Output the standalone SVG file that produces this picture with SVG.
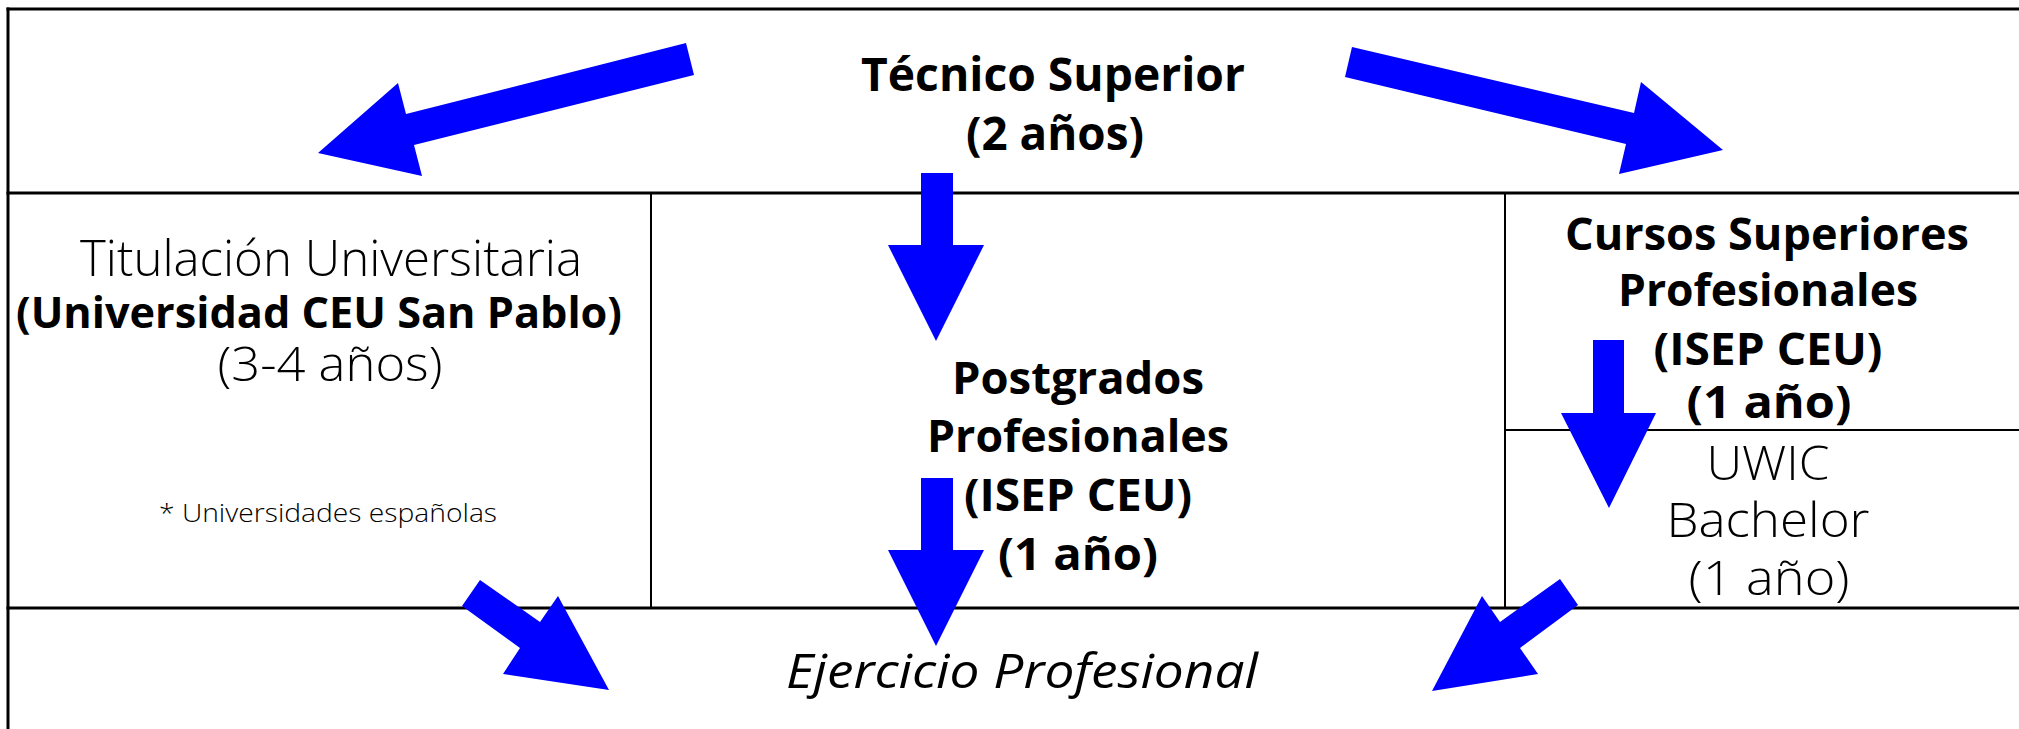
<svg xmlns="http://www.w3.org/2000/svg" width="2019" height="729" viewBox="0 0 2019 729">
<style>
.bg{fill:#ffffff}
.grid line{stroke:#000000;stroke-linecap:square}
.thick{stroke-width:3}
.thin{stroke-width:2}
.arrow{fill:#0000ff;stroke:none}
text{fill:#000000;text-anchor:middle}
.b{font-family:"Open Sans","Noto Sans","Liberation Sans",sans-serif;font-weight:700}
.l{font-family:"Open Sans","Noto Sans","Liberation Sans",sans-serif;font-weight:300}
.i{font-family:"Open Sans","Noto Sans","Liberation Sans",sans-serif;font-style:italic;font-weight:400}
</style>
<rect class="bg" x="0" y="0" width="2019" height="729"/>
<g id="grid" class="grid">
<line class="thick" x1="8" y1="9" x2="2019" y2="9"/>
<line class="thick" x1="8" y1="9" x2="8" y2="729"/>
<line class="thick" x1="8" y1="193" x2="2019" y2="193"/>
<line class="thick" x1="8" y1="608" x2="2019" y2="608"/>
<line class="thin" x1="651" y1="193" x2="651" y2="608"/>
<line class="thin" x1="1505" y1="193" x2="1505" y2="608"/>
<line class="thin" x1="1505" y1="430" x2="2019" y2="430"/>
</g>
<g id="connectors">
<polygon class="arrow" points="686,43 694,75 414,145 422,176 318,153 398,83 406,114"/>
<polygon class="arrow" points="1352,47 1634,113 1641,82 1723,150 1619,174 1626,144 1345,77"/>
<polygon class="arrow" points="921,173 953,173 953,245 984,245 936,341 888,245 921,245"/>
<polygon class="arrow" points="921,478 953,478 953,550 984,550 936,646 888,550 921,550"/>
<polygon class="arrow" points="1593,340 1624,340 1624,413 1656,413 1609,508 1561,413 1593,413"/>
<polygon class="arrow" points="480,580 540,622 558,596 609,690 503,674 520,648 462,606"/>
<polygon class="arrow" points="1560,579 1578,605 1520,648 1538,674 1432,691 1482,596 1500,622"/>
</g>
<g id="tecnico-superior">
<text class="b" x="1053" y="91" font-size="46" textLength="384" lengthAdjust="spacingAndGlyphs">Técnico Superior</text>
<text class="b" x="1055" y="150" font-size="46" textLength="178" lengthAdjust="spacingAndGlyphs">(2 años)</text>
</g>
<g id="titulacion-universitaria">
<text class="l" x="331" y="276" font-size="49" textLength="502" lengthAdjust="spacingAndGlyphs">Titulación Universitaria</text>
<text class="b" x="319" y="328" font-size="43" textLength="606" lengthAdjust="spacingAndGlyphs">(Universidad CEU San Pablo)</text>
<text class="l" x="330" y="381" font-size="47" textLength="225" lengthAdjust="spacingAndGlyphs">(3-4 años)</text>
<text class="l" x="328" y="522" font-size="26" textLength="338" lengthAdjust="spacingAndGlyphs">* Universidades españolas</text>
</g>
<g id="postgrados-profesionales">
<text class="b" x="1078" y="394" font-size="44" textLength="252" lengthAdjust="spacingAndGlyphs">Postgrados</text>
<text class="b" x="1078" y="452" font-size="44" textLength="302" lengthAdjust="spacingAndGlyphs">Profesionales</text>
<text class="b" x="1078" y="511" font-size="44" textLength="228" lengthAdjust="spacingAndGlyphs">(ISEP CEU)</text>
<text class="b" x="1078" y="570" font-size="44" textLength="160" lengthAdjust="spacingAndGlyphs">(1 año)</text>
</g>
<g id="cursos-superiores">
<text class="b" x="1767" y="250" font-size="45" textLength="404" lengthAdjust="spacingAndGlyphs">Cursos Superiores</text>
<text class="b" x="1768" y="306" font-size="45" textLength="300" lengthAdjust="spacingAndGlyphs">Profesionales</text>
<text class="b" x="1768" y="365" font-size="45" textLength="229" lengthAdjust="spacingAndGlyphs">(ISEP CEU)</text>
<text class="b" x="1769" y="418" font-size="45" textLength="165" lengthAdjust="spacingAndGlyphs">(1 año)</text>
</g>
<g id="uwic-bachelor">
<text class="l" x="1768" y="480" font-size="48" textLength="123" lengthAdjust="spacingAndGlyphs">UWIC</text>
<text class="l" x="1768" y="537" font-size="48" textLength="203" lengthAdjust="spacingAndGlyphs">Bachelor</text>
<text class="l" x="1769" y="595" font-size="48" textLength="161" lengthAdjust="spacingAndGlyphs">(1 año)</text>
</g>
<g id="ejercicio-profesional">
<text class="i" x="1022" y="688" font-size="47" textLength="472" lengthAdjust="spacingAndGlyphs">Ejercicio Profesional</text>
</g>
</svg>
